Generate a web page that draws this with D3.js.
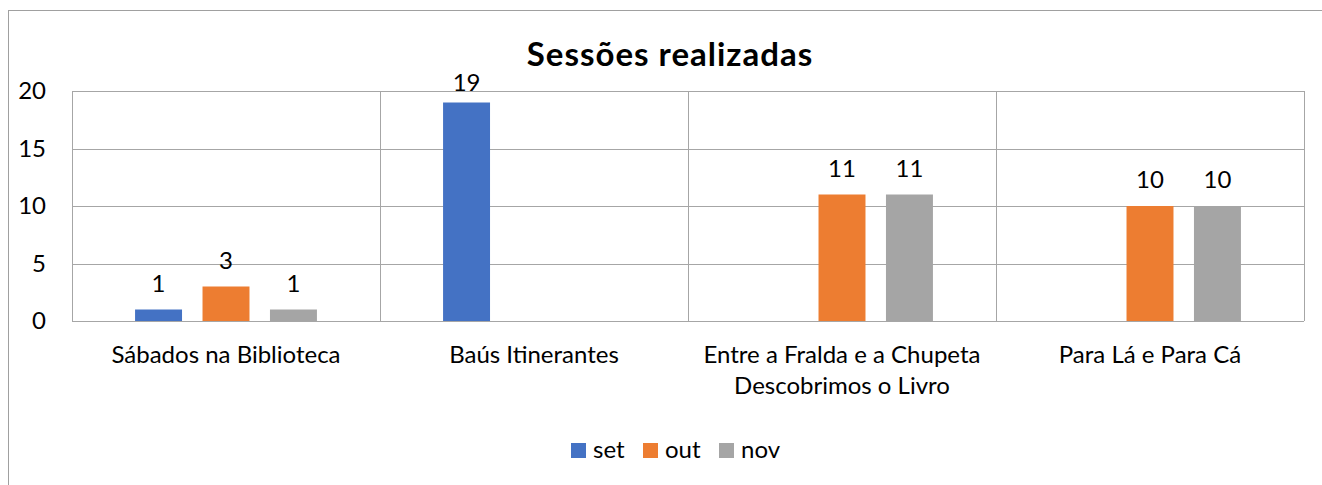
<!DOCTYPE html>
<html>
<head>
<meta charset="utf-8">
<script src="https://cdn.jsdelivr.net/npm/d3@7"></script>
<style>
    html, body { margin: 0; padding: 0; background: #fff; }
    svg { display: block; font-family: Lato, "Open Sans", sans-serif; }
</style>
</head>
<body>
<svg id="chart" width="1322" height="485"></svg>
<script>
// Chart data
const categories = [
    ['Sábados na Biblioteca'],
    ['Baús Itinerantes'],
    ['Entre a Fralda e a Chupeta', 'Descobrimos o Livro'],
    ['Para Lá e Para Cá']
];
const seriesNames = ['set', 'out', 'nov'];
const seriesColors = ['#4472C4', '#ED7D31', '#A5A5A5'];
// null = no bar in that month
const setValues = [1, 19, null, null];
const outValues = [3, null, 11, 10];
const novValues = [1, null, 11, 10];
const yTicks = [0, 5, 10, 15, 20];

const series = [setValues, outValues, novValues];

const svg = d3.select('#chart');
const margin = { left: 72, right: 18, top: 91, bottom: 164 };
const width = 1322, height = 485;
const fontSize = '24px';

// Outer chart frame (runs off the right and bottom edge)
svg.append('rect')
    .attr('x', 8.5).attr('y', 10.5)
    .attr('width', 1400).attr('height', 600)
    .style('fill', 'none')
    .style('stroke', '#a0a0a0')
    .style('stroke-width', 1);

const x = d3.scaleBand()
    .domain(d3.range(categories.length))
    .range([margin.left, width - margin.right])
    .paddingInner(0).paddingOuter(0);

const y = d3.scaleLinear()
    .domain([0, 20])
    .range([height - margin.bottom, margin.top]);

// Bars inside each category: width and step as fraction of the band
const barW = x.bandwidth() * 0.1525;
const barStep = x.bandwidth() * 0.219;

const grid = svg.append('g').attr('class', 'grid');

// Horizontal gridlines
grid.selectAll('.hgrid')
    .data(yTicks)
    .join('line')
    .attr('x1', margin.left).attr('x2', width - margin.right)
    .attr('y1', d => Math.round(y(d)) + 0.5)
    .attr('y2', d => Math.round(y(d)) + 0.5)
    .style('stroke', '#a6a6a6')
    .style('stroke-width', 1);

// Vertical category separators
grid.selectAll('.vgrid')
    .data(d3.range(categories.length + 1))
    .join('line')
    .attr('x1', i => Math.round(margin.left + i * x.bandwidth()) + 0.5)
    .attr('x2', i => Math.round(margin.left + i * x.bandwidth()) + 0.5)
    .attr('y1', y(20)).attr('y2', y(0))
    .style('stroke', '#a6a6a6')
    .style('stroke-width', 1);

// Y tick labels
svg.append('g')
    .selectAll('text')
    .data(yTicks)
    .join('text')
    .attr('x', 46)
    .attr('y', d => y(d))
    .attr('dy', '0.35em')
    .attr('text-anchor', 'end')
    .style('font-size', fontSize)
    .style('fill', '#000')
    .text(d => d);

// Bars + labels
const bars = [];
series.forEach((vals, s) => {
    vals.forEach((v, c) => {
        if (v === null) return;
        const cx = x(c) + x.bandwidth() / 2 + (s - 1) * barStep;
        bars.push({ s, c, v, cx });
    });
});

svg.append('g')
    .selectAll('rect')
    .data(bars)
    .join('rect')
    .attr('x', d => d.cx - barW / 2)
    .attr('y', d => y(d.v))
    .attr('width', barW)
    .attr('height', d => y(0) - y(d.v))
    .style('fill', d => seriesColors[d.s]);

svg.append('g')
    .selectAll('text')
    .data(bars)
    .join('text')
    .attr('x', d => d.cx)
    .attr('y', d => Math.max(y(d.v) - 18, y(20)))
    .attr('text-anchor', 'middle')
    .style('font-size', fontSize)
    .style('fill', '#000')
    .text(d => d.v);

// Category labels
const catG = svg.append('g')
    .selectAll('text')
    .data(categories)
    .join('text')
    .attr('x', (d, i) => x(i) + x.bandwidth() / 2)
    .attr('y', 363)
    .attr('text-anchor', 'middle')
    .style('font-size', fontSize)
    .style('fill', '#000');

catG.selectAll('tspan')
    .data(d => d)
    .join('tspan')
    .attr('x', function() { return d3.select(this.parentNode).attr('x'); })
    .attr('dy', (d, i) => i === 0 ? 0 : 31)
    .text(d => d);

// Title
svg.append('text')
    .attr('x', 670)
    .attr('y', 66)
    .attr('text-anchor', 'middle')
    .style('font-size', '33px')
    .style('font-weight', 'bold')
    .style('letter-spacing', '1px')
    .style('fill', '#000')
    .text('Sessões realizadas');

// Legend
const legendX = [571, 643, 719];
const legend = svg.append('g')
    .selectAll('g')
    .data(seriesNames)
    .join('g')
    .attr('transform', (d, i) => `translate(${legendX[i]}, 443)`);

legend.append('rect')
    .attr('width', 15).attr('height', 15)
    .style('fill', (d, i) => seriesColors[i]);

legend.append('text')
    .attr('x', 22).attr('y', 15)
    .style('font-size', fontSize)
    .style('fill', '#000')
    .text(d => d);
</script>
</body>
</html>
